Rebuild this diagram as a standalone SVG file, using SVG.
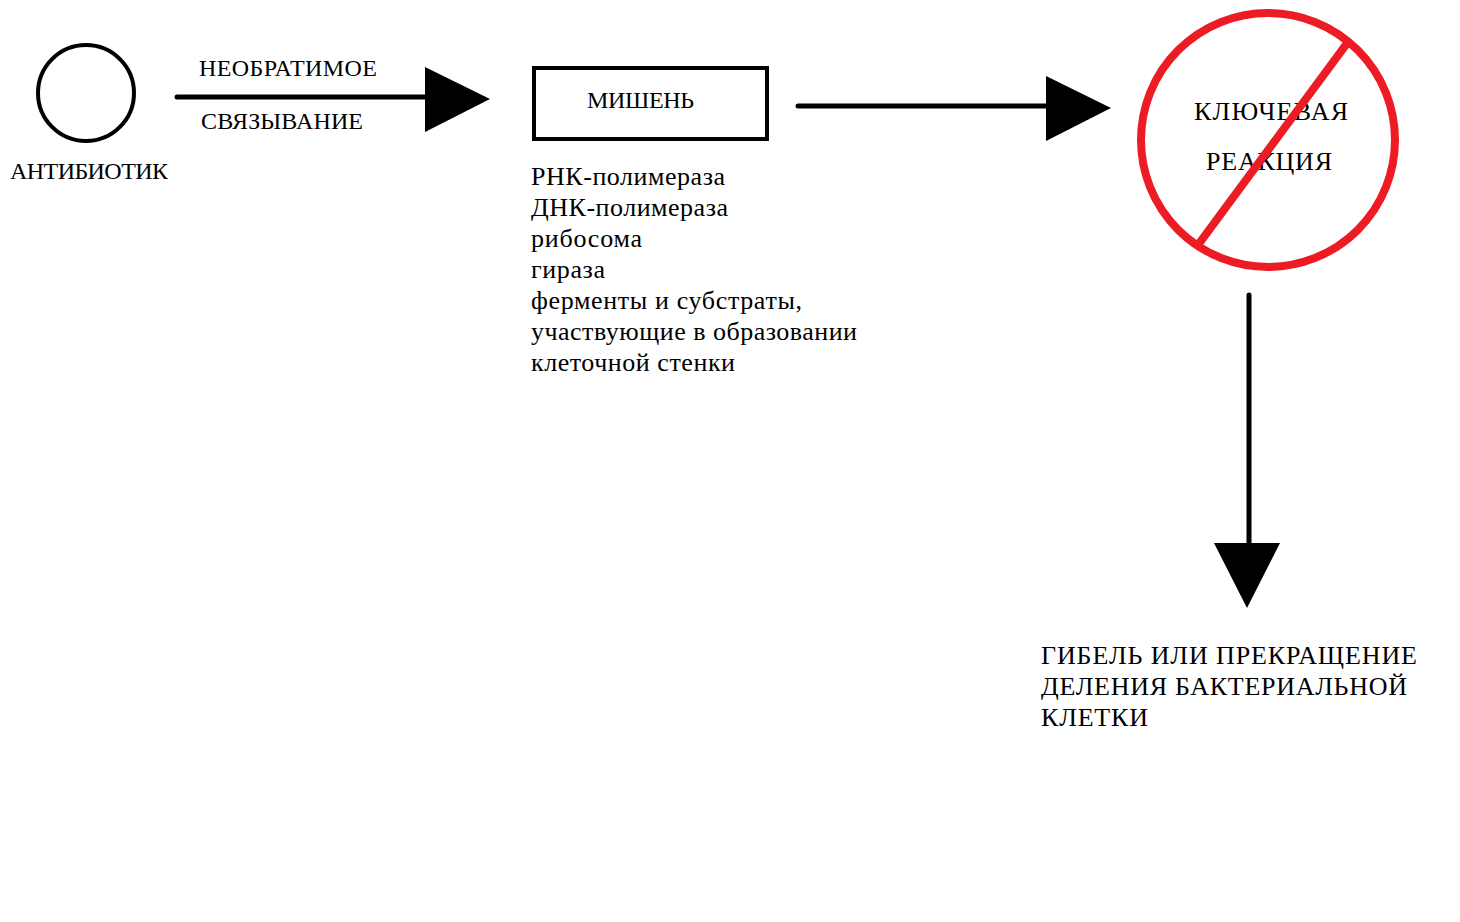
<svg xmlns="http://www.w3.org/2000/svg" width="1460" height="922" viewBox="0 0 1460 922">
<style>
text{font-family:"Liberation Serif","Times New Roman",serif;fill:#000}
.s{font-size:24px}
.k{font-size:26px}
.m{font-size:26px}
.ln{stroke:#000;stroke-width:5;stroke-linecap:round;fill:none}
.head{fill:#000}
.red{stroke:#ED1C24;stroke-width:8;fill:none}
</style>
<rect width="1460" height="922" fill="#fff"/>
<g id="antibiotic">
<circle cx="86" cy="93" r="48" fill="none" stroke="#000" stroke-width="4"/>
<text class="s" x="10" y="179" textLength="158">АНТИБИОТИК</text>
</g>
<g id="target">
<rect x="534" y="68" width="233" height="71" fill="none" stroke="#000" stroke-width="4"/>
<text class="s" x="587" y="108" textLength="107">МИШЕНЬ</text>
<text class="m" x="531" y="185" textLength="194">РНК-полимераза</text>
<text class="m" x="531" y="216" textLength="197">ДНК-полимераза</text>
<text class="m" x="531" y="247" textLength="111">рибосома</text>
<text class="m" x="531" y="278" textLength="74">гираза</text>
<text class="m" x="531" y="309" textLength="271">ферменты и субстраты,</text>
<text class="m" x="531" y="340" textLength="326">участвующие в образовании</text>
<text class="m" x="531" y="371" textLength="204">клеточной стенки</text>
</g>
<g id="key-reaction">
<circle cx="1268" cy="140" r="127" class="red"/>
<text class="k" x="1194" y="120" textLength="154">КЛЮЧЕВАЯ</text>
<text class="k" x="1206" y="170" textLength="126">РЕАКЦИЯ</text>
<line x1="1348" y1="42" x2="1198" y2="245" class="red"/>
</g>
<g id="outcome">
<text class="m" x="1041" y="664" textLength="376">ГИБЕЛЬ ИЛИ ПРЕКРАЩЕНИЕ</text>
<text class="m" x="1041" y="695" textLength="366">ДЕЛЕНИЯ БАКТЕРИАЛЬНОЙ</text>
<text class="m" x="1041" y="726" textLength="107">КЛЕТКИ</text>
</g>
<g id="connectors">
<line x1="177" y1="97" x2="430" y2="97" class="ln"/>
<polygon points="425,67 490,99 425,132" class="head"/>
<text class="s" x="199" y="76" textLength="178">НЕОБРАТИМОЕ</text>
<text class="s" x="201" y="129" textLength="162">СВЯЗЫВАНИЕ</text>
<line x1="798" y1="106" x2="1050" y2="106" class="ln"/>
<polygon points="1046,76 1111,108 1046,141" class="head"/>
<line x1="1249" y1="295" x2="1249" y2="548" class="ln"/>
<polygon points="1214,543 1280,543 1247,608" class="head"/>
</g>
</svg>
